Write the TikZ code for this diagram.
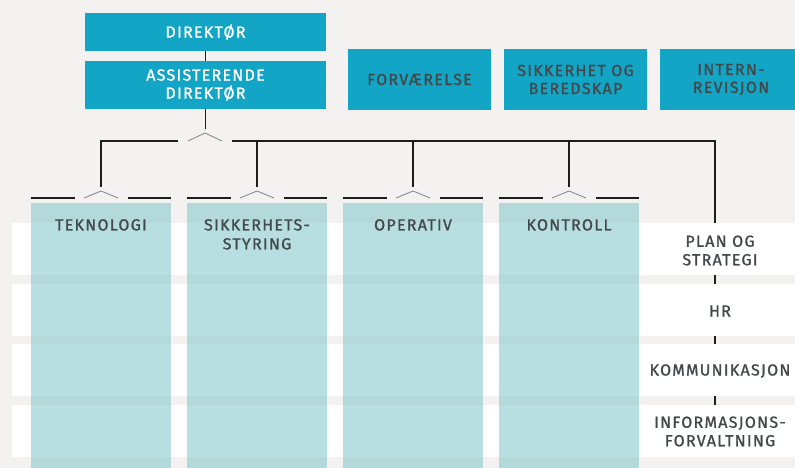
\documentclass[tikz,border=0pt]{standalone}
\usepackage{fontspec}
\setmainfont{Fira Sans}[LetterSpace=8, FakeBold=1.2]
\usetikzlibrary{positioning,calc}
\definecolor{orgblue}{HTML}{12A5C5}
\definecolor{deptteal}{RGB}{148,206,209}
\definecolor{labelgrey}{HTML}{45484A}
\definecolor{paper}{HTML}{F3F2F0}
\definecolor{wire}{HTML}{1E1E1E}
\definecolor{caretgrey}{HTML}{8C8C8C}
\pgfdeclarelayer{back}
\pgfdeclarelayer{wires}
\pgfsetlayers{back,wires,main}
\tikzstyle{lead} = [rectangle, minimum width=241pt, inner sep=0pt,
                    align=center, fill=orgblue, text=white,
                    font=\fontsize{16}{18}\selectfont]
\tikzstyle{staff} = [rectangle, minimum width=143pt, minimum height=61pt,
                     inner sep=0pt, align=center, fill=orgblue, text=labelgrey,
                     font=\fontsize{16}{18}\selectfont]
\tikzstyle{dept} = [rectangle, minimum width=140pt, minimum height=270pt,
                    anchor=north, inner sep=0pt, fill=deptteal, fill opacity=0.67]
\tikzstyle{deptlabel} = [anchor=north, align=center, inner sep=0pt,
                         text=labelgrey, font=\fontsize{16}{19}\selectfont]
\tikzstyle{rowbox} = [rectangle, minimum width=790pt, minimum height=52pt,
                      inner sep=0pt, fill=white]
\tikzstyle{rowlabel} = [align=center, inner sep=0pt, text=labelgrey,
                        font=\fontsize{16}{18.5}\selectfont]
\tikzstyle{conn} = [draw=wire, line width=1.2pt]
\tikzstyle{caret} = [draw=caretgrey, line width=0.9pt]

\begin{document}
\begin{tikzpicture}[x=1pt, y=-1pt]
\useasboundingbox (0,0) rectangle (795,468);
\begin{pgfonlayer}{back}
\fill[paper] (0,0) rectangle (795,468);
\end{pgfonlayer}

% management
\node (dir) [lead, minimum height=38pt] at (205.5,32) {DIREKTØR};
\node (adir) [lead, minimum height=48pt] at (205.5,85) {ASSISTERENDE\\DIREKTØR};
\node (forv) [staff] at (419.5,79.5) {FORVÆRELSE};
\node (sikk) [staff] at (575.5,79.5) {SIKKERHET OG\\BEREDSKAP};
\node (intern) [staff] at (731,79.5) {INTERN-\\REVISJON};

% staff rows
\node (plan) [rowbox] at (407,249) {};
\node (hr) [rowbox] at (407,310) {};
\node (komm) [rowbox] at (407,370) {};
\node (info) [rowbox] at (407,431) {};
\node (planlbl) [rowlabel] at (720,250.5) {PLAN OG\\STRATEGI};
\node (hrlbl) [rowlabel] at (720,311) {HR};
\node (kommlbl) [rowlabel] at (720,371) {KOMMUNIKASJON};
\node (infolbl) [rowlabel] at (720,431.5) {INFORMASJONS-\\FORVALTNING};

% departments
\node (tek) [dept] at (101,203) {};
\node (sty) [dept] at (257,203) {};
\node (ops) [dept] at (413,203) {};
\node (kon) [dept] at (569,203) {};
\node (teklbl) [deptlabel] at ($(tek.north)+(0,16)$) {TEKNOLOGI};
\node (stylbl) [deptlabel] at ($(sty.north)+(0,16)$) {SIKKERHETS-\\STYRING};
\node (opslbl) [deptlabel] at ($(ops.north)+(0,16)$) {OPERATIV};
\node (konlbl) [deptlabel] at ($(kon.north)+(0,16)$) {KONTROLL};

\coordinate (bus) at (205,141);
\coordinate (stafftap) at (715,405);

\begin{pgfonlayer}{wires}
\draw [conn] (dir) -- (adir);
\draw [conn] (adir.south) -- ++(0,20);
\draw [caret] ($(bus)+(-17,0)$) -- ++(17,-8) -- ++(17,8);
\draw [conn] ($(tek.north)+(0,-16)$) |- ($(bus)+(-27,0)$);
\draw [conn] ($(bus)+(27,0)$) -| (stafftap);
\draw [conn] ($(sty.north)+(0,-16)$) -- (sty.north |- bus);
\draw [conn] ($(ops.north)+(0,-16)$) -- (ops.north |- bus);
\draw [conn] ($(kon.north)+(0,-16)$) -- (kon.north |- bus);
% carets above the departments
\draw [caret] ($(tek.north)+(-17,-5)$) -- ++(17,-7) -- ++(17,7);
\draw [caret] ($(sty.north)+(-17,-5)$) -- ++(17,-7) -- ++(17,7);
\draw [caret] ($(ops.north)+(-17,-5)$) -- ++(17,-7) -- ++(17,7);
\draw [caret] ($(kon.north)+(-17,-5)$) -- ++(17,-7) -- ++(17,7);
\draw [conn] ($(tek.north west)+(0,-5)$) -- ++(44,0);
\draw [conn] ($(tek.north east)+(0,-5)$) -- ++(-43,0);
\draw [conn] ($(sty.north west)+(0,-5)$) -- ++(44,0);
\draw [conn] ($(sty.north east)+(0,-5)$) -- ++(-43,0);
\draw [conn] ($(ops.north west)+(0,-5)$) -- ++(44,0);
\draw [conn] ($(ops.north east)+(0,-5)$) -- ++(-43,0);
\draw [conn] ($(kon.north west)+(0,-5)$) -- ++(44,0);
\draw [conn] ($(kon.north east)+(0,-5)$) -- ++(-43,0);
\end{pgfonlayer}
\end{tikzpicture}
\end{document}
